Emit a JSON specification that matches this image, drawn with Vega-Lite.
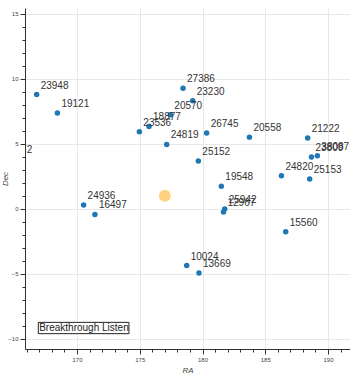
{
  "$schema": "https://vega.github.io/schema/vega-lite/v6.json",
  "width": 325,
  "height": 341,
  "autosize": {"type": "none"},
  "padding": {"left": 25, "top": 8, "right": 0, "bottom": 35},
  "config": {
    "view": {"stroke": null},
    "font": "Liberation Sans",
    "axis": {
      "domainColor": "#333333",
      "tickColor": "#333333",
      "labelColor": "#444444",
      "labelFontSize": 6,
      "titleFontSize": 8,
      "titleFontStyle": "italic",
      "titleFontWeight": "normal",
      "titleColor": "#444444",
      "gridColor": "#e8e8e8",
      "labelPadding": 2
    }
  },
  "datasets": {
    "stars": [
      {"RA": 163.9, "Dec": 3.8, "label": "24872"},
      {"RA": 166.79, "Dec": 8.79, "label": "23948"},
      {"RA": 168.44, "Dec": 7.36, "label": "19121"},
      {"RA": 170.53, "Dec": 0.28, "label": "24936"},
      {"RA": 171.43, "Dec": -0.44, "label": "16497"},
      {"RA": 174.97, "Dec": 5.92, "label": "23536"},
      {"RA": 175.74, "Dec": 6.33, "label": "18877"},
      {"RA": 177.44, "Dec": 7.23, "label": "20570"},
      {"RA": 178.45, "Dec": 9.28, "label": "27386"},
      {"RA": 179.22, "Dec": 8.31, "label": "23230"},
      {"RA": 177.15, "Dec": 4.95, "label": "24819"},
      {"RA": 180.33, "Dec": 5.82, "label": "26745"},
      {"RA": 183.74, "Dec": 5.51, "label": "20558"},
      {"RA": 188.38, "Dec": 5.44, "label": "21222"},
      {"RA": 188.68, "Dec": 3.98, "label": "23809"},
      {"RA": 189.15, "Dec": 4.08, "label": "38087"},
      {"RA": 186.29, "Dec": 2.54, "label": "24820"},
      {"RA": 188.54, "Dec": 2.28, "label": "25153"},
      {"RA": 179.67, "Dec": 3.67, "label": "25152"},
      {"RA": 181.5, "Dec": 1.72, "label": "19548"},
      {"RA": 181.77, "Dec": -0.02, "label": "25942"},
      {"RA": 181.67, "Dec": -0.25, "label": "12967"},
      {"RA": 186.63, "Dec": -1.77, "label": "15560"},
      {"RA": 178.74, "Dec": -4.38, "label": "10024"},
      {"RA": 179.72, "Dec": -4.95, "label": "13669"}
    ],
    "target": [{"RA": 177.0, "Dec": 1.0}],
    "note": [{"x1": 166.92, "x2": 174.14, "y1": -8.75, "y2": -9.62, "tx": 166.99, "ty": -9.18, "text": "Breakthrough Listen"}]
  },
  "resolve": {"axis": {"x": "independent", "y": "independent"}},
  "layer": [
    {
      "data": {"name": "target"},
      "mark": {"type": "circle", "size": 140, "color": "#ffa500", "opacity": 0.5, "clip": true},
      "encoding": {
        "x": {"field": "RA", "type": "quantitative", "scale": {"domain": [165.86, 191.75], "nice": false, "zero": false},
              "axis": {"title": "RA", "values": [170, 175, 180, 185, 190], "tickSize": 5, "grid": true, "titlePadding": 4}},
        "y": {"field": "Dec", "type": "quantitative", "scale": {"domain": [-10.8, 15.45], "nice": false, "zero": false},
              "axis": {"title": "Dec", "values": [-10, -5, 0, 5, 10, 15], "tickSize": 5, "grid": true, "titlePadding": -2}}
      }
    },
    {
      "data": {"name": "stars"},
      "mark": {"type": "circle", "size": 30, "color": "#1f77b4", "opacity": 1, "clip": true},
      "encoding": {
        "x": {"field": "RA", "type": "quantitative", "scale": {"domain": [165.86, 191.75], "nice": false, "zero": false},
              "axis": {"orient": "bottom", "title": null, "labels": false, "grid": false, "domain": false, "tickSize": 3,
                       "values": [166,167,168,169,170,171,172,173,174,175,176,177,178,179,180,181,182,183,184,185,186,187,188,189,190,191]}},
        "y": {"field": "Dec", "type": "quantitative", "scale": {"domain": [-10.8, 15.45], "nice": false, "zero": false},
              "axis": {"orient": "left", "title": null, "labels": false, "grid": false, "domain": false, "tickSize": 3,
                       "values": [-10,-9,-8,-7,-6,-5,-4,-3,-2,-1,0,1,2,3,4,5,6,7,8,9,10,11,12,13,14,15]}}
      }
    },
    {
      "data": {"name": "stars"},
      "mark": {"type": "text", "align": "left", "baseline": "middle", "dx": 4, "dy": -9, "fontSize": 10, "color": "#333333", "clip": true},
      "encoding": {
        "x": {"field": "RA", "type": "quantitative", "axis": null},
        "y": {"field": "Dec", "type": "quantitative", "axis": null},
        "text": {"field": "label"}
      }
    },
    {
      "data": {"name": "note"},
      "mark": {"type": "rect", "fill": "white", "stroke": "#222222", "strokeWidth": 1},
      "encoding": {
        "x": {"field": "x1", "type": "quantitative", "axis": null},
        "x2": {"field": "x2"},
        "y": {"field": "y1", "type": "quantitative", "axis": null},
        "y2": {"field": "y2"}
      }
    },
    {
      "data": {"name": "note"},
      "mark": {"type": "text", "align": "left", "baseline": "middle", "fontSize": 10, "color": "#222222"},
      "encoding": {
        "x": {"field": "tx", "type": "quantitative", "axis": null},
        "y": {"field": "ty", "type": "quantitative", "axis": null},
        "text": {"field": "text"}
      }
    }
  ]
}
